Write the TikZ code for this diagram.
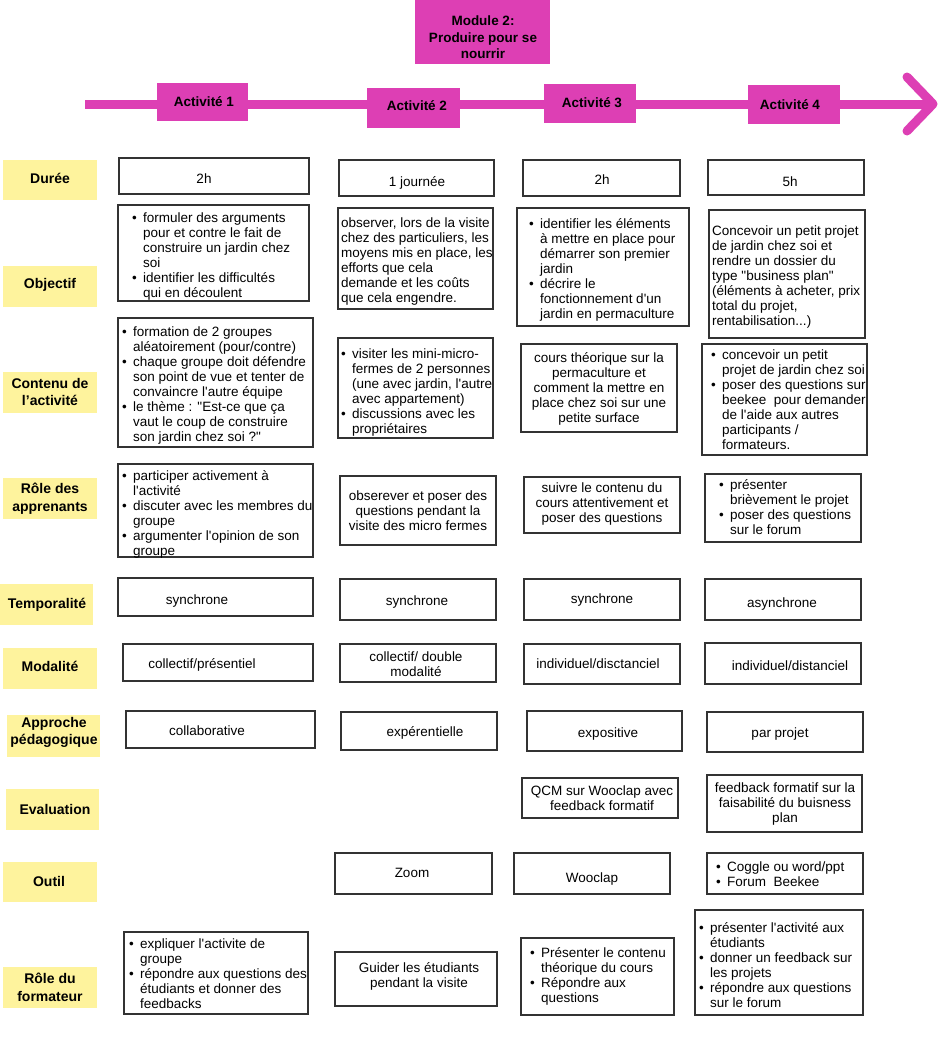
\documentclass[tikz,border=0pt]{standalone}
\usepackage{fontspec}
\setmainfont{Liberation Sans}
\newfontfamily\bodyfont{Liberation Sans}[Ligatures=TeXOff]
\usetikzlibrary{fit}
\definecolor{mag}{RGB}{221,63,180}
\definecolor{labc}{RGB}{254,243,157}
\newlength{\bw}\setlength{\bw}{11pt}
\newcommand{\bul}{\makebox[\bw][l]{\textbullet}}
\newcommand{\ind}{\hspace*{\bw}}
\newcommand{\cellbox}[5]{\node[cell, fit={(#2,#3)(#4,#5)}] (#1) {};}
\begin{document}
\begin{tikzpicture}[x=1pt,y=-1pt,
  cell/.style={draw=black!80, line width=1.1pt, fill=white, inner sep=0pt},
  lab/.style={fill=labc, inner sep=0pt},
  labtxt/.style={inner sep=0pt, font=\fontsize{14}{17.5}\selectfont\bfseries, align=center, anchor=north, execute at begin node=\strut},
  actbox/.style={fill=mag, inner sep=0pt},
  acttxt/.style={inner sep=0pt, font=\fontsize{13.5}{16.5}\selectfont\bfseries, align=center, anchor=north, execute at begin node=\strut},
  txt/.style={inner sep=0pt, font=\bodyfont\fontsize{13.5}{15}\selectfont, align=left, anchor=north west, execute at begin node=\strut},
  ctxt/.style={inner sep=0pt, font=\bodyfont\fontsize{13.5}{15}\selectfont, align=center, anchor=north, execute at begin node=\strut},
  arrowline/.style={draw=mag, line width=9pt}
]
\fill[white] (0,0) rectangle (941,1041);
\useasboundingbox (0,0) rectangle (941,1041);

% timeline arrow
\coordinate (aL) at (85,104);
\coordinate (aR) at (930,104);
\coordinate (hT) at (907,77);
\coordinate (hM) at (933,104);
\coordinate (hB) at (907,131);
\draw[arrowline] (aL) -- (aR);
\draw[arrowline, line cap=round, line join=round] (hT) -- (hM) -- (hB);

% module
\node[actbox, fit={(415,0)(550,64)}] (mod) {};
\node[acttxt] (modt) at (483,16) {Module 2:\\Produire pour se\\nourrir};

% activities
\node[actbox, fit={(157,83)(248,121)}] (A1) {};
\node[acttxt] (A1t) at (204,95) {Activité 1};
\node[actbox, fit={(367,88)(460,128)}] (A2) {};
\node[acttxt] (A2t) at (417,99) {Activité 2};
\node[actbox, fit={(544,84)(636,123)}] (A3) {};
\node[acttxt] (A3t) at (592,96) {Activité 3};
\node[actbox, fit={(748,85)(840,124)}] (A4) {};
\node[acttxt] (A4t) at (790,98) {Activité 4};

% row labels
\node[lab, fit={(3,160)(97,200)}] (L1) {};
\node[labtxt] (L1t) at (50,171) {Durée};
\node[lab, fit={(3,266)(97,307)}] (L2) {};
\node[labtxt] (L2t) at (50,276) {Objectif};
\node[lab, fit={(3,372)(97,413)}] (L3) {};
\node[labtxt] (L3t) at (50,378) {Contenu de\\l’activité};
\node[lab, fit={(3,478)(97,519)}] (L4) {};
\node[labtxt] (L4t) at (50,483) {Rôle des\\apprenants};
\node[lab, fit={(0,584)(93,625)}] (L5) {};
\node[labtxt] (L5t) at (47,596) {Temporalité};
\node[lab, fit={(3,648)(97,689)}] (L6) {};
\node[labtxt] (L6t) at (50,659) {Modalité};
\node[lab, fit={(7,715)(100,757)}] (L7) {};
\node[labtxt] (L7t) at (54,717) {Approche\\pédagogique};
\node[lab, fit={(6,789)(99,830)}] (L8) {};
\node[labtxt] (L8t) at (55,802) {Evaluation};
\node[lab, fit={(3,862)(97,902)}] (L9) {};
\node[labtxt] (L9t) at (49,874) {Outil};
\node[lab, fit={(3,967)(97,1008)}] (L10) {};
\node[labtxt] (L10t) at (50,973) {Rôle du\\formateur};

% Durée
\cellbox{d1}{119}{158}{309}{194}
\node[ctxt] (d1t) at (204,173) {2h};
\cellbox{d2}{339}{160}{494}{196}
\node[ctxt] (d2t) at (417,176) {1 journée};
\cellbox{d3}{523}{160}{680}{196}
\node[ctxt] (d3t) at (602,174) {2h};
\cellbox{d4}{708}{160}{864}{195}
\node[ctxt] (d4t) at (790,176) {5h};

% Objectif
\cellbox{o1}{118}{205}{309}{301}
\node[txt] (o1t) at (132,213) {\bul formuler des arguments\\\ind pour et contre le fait de\\\ind construire un jardin chez\\\ind soi\\\bul identifier les difficultés\\\ind qui en découlent};
\cellbox{o2}{338}{208}{493}{309}
\node[txt] (o2t) at (341,218) {observer, lors de la visite\\chez des particuliers, les\\moyens mis en place, les\\efforts que cela\\demande et les coûts\\que cela engendre.};
\cellbox{o3}{517}{208}{689}{326}
\node[txt] (o3t) at (529,218) {\bul identifier les éléments\\\ind à mettre en place pour\\\ind démarrer son premier\\\ind jardin\\\bul décrire le\\\ind fonctionnement d'un\\\ind jardin en permaculture};
\cellbox{o4}{709}{210}{865}{338}
\node[txt] (o4t) at (712,226) {Concevoir un petit projet\\de jardin chez soi et\\rendre un dossier du\\type "business plan"\\(éléments à acheter, prix\\total du projet,\\rentabilisation...)};

% Contenu
\cellbox{c1}{118}{318}{313}{447}
\node[txt] (c1t) at (122,327) {\bul formation de 2 groupes\\\ind aléatoirement (pour/contre)\\\bul chaque groupe doit défendre\\\ind son point de vue et tenter de\\\ind convaincre l'autre équipe\\\bul le thème : "Est-ce que ça\\\ind vaut le coup de construire\\\ind son jardin chez soi ?"};
\cellbox{c2}{338}{338}{493}{438}
\node[txt] (c2t) at (341,349) {\bul visiter les mini-micro-\\\ind fermes de 2 personnes\\\ind (une avec jardin, l'autre\\\ind avec appartement)\\\bul discussions avec les\\\ind propriétaires};
\cellbox{c3}{521}{344}{677}{432}
\node[ctxt] (c3t) at (599,352) {cours théorique sur la\\permaculture et\\comment la mettre en\\place chez soi sur une\\petite surface};
\cellbox{c4}{702}{344}{867}{455}
\node[txt] (c4t) at (711,350) {\bul concevoir un petit\\\ind projet de jardin chez soi\\\bul poser des questions sur\\\ind beekee\ \ pour demander\\\ind de l'aide aux autres\\\ind participants /\\\ind formateurs.};

% Rôle des apprenants
\cellbox{r1}{118}{464}{313}{557}
\node[txt] (r1t) at (122,470) {\bul participer activement à\\\ind l'activité\\\bul discuter avec les membres du\\\ind groupe\\\bul argumenter l'opinion de son\\\ind groupe};
\cellbox{r2}{340}{476}{496}{545}
\node[ctxt] (r2t) at (418,491) {obserever et poser des\\questions pendant la\\visite des micro fermes};
\cellbox{r3}{524}{477}{680}{533}
\node[ctxt] (r3t) at (602,483) {suivre le contenu du\\cours attentivement et\\poser des questions};
\cellbox{r4}{705}{474}{861}{542}
\node[txt] (r4t) at (719,479) {\bul présenter\\\ind brièvement le projet\\\bul poser des questions\\\ind sur le forum};

% Temporalité
\cellbox{t1}{118}{578}{313}{616}
\node[ctxt] (t1t) at (197,594) {synchrone};
\cellbox{t2}{340}{579}{496}{620}
\node[ctxt] (t2t) at (417,595) {synchrone};
\cellbox{t3}{524}{579}{680}{620}
\node[ctxt] (t3t) at (602,593) {synchrone};
\cellbox{t4}{705}{579}{861}{620}
\node[ctxt] (t4t) at (782,597) {asynchrone};

% Modalité
\cellbox{m1}{123}{644}{313}{681}
\node[ctxt] (m1t) at (202,658) {collectif/présentiel};
\cellbox{m2}{340}{644}{496}{682}
\node[ctxt] (m2t) at (416,652) {collectif/ double\\modalité};
\cellbox{m3}{524}{644}{680}{684}
\node[ctxt] (m3t) at (598,658) {individuel/disctanciel};
\cellbox{m4}{705}{643}{861}{684}
\node[ctxt] (m4t) at (790,660) {individuel/distanciel};

% Approche
\cellbox{p1}{126}{711}{315}{748}
\node[ctxt] (p1t) at (207,725) {collaborative};
\cellbox{p2}{341}{712}{497}{750}
\node[ctxt] (p2t) at (425,726) {expérentielle};
\cellbox{p3}{527}{711}{682}{751}
\node[ctxt] (p3t) at (608,727) {expositive};
\cellbox{p4}{707}{712}{863}{752}
\node[ctxt] (p4t) at (780,727) {par projet};

% Evaluation
\cellbox{e3}{522}{778}{678}{818}
\node[ctxt] (e3t) at (602,786) {QCM sur Wooclap avec\\feedback formatif};
\cellbox{e4}{707}{775}{862}{832}
\node[ctxt] (e4t) at (785,783) {feedback formatif sur la\\faisabilité du buisness\\plan};

% Outil
\cellbox{u2}{335}{853}{492}{894}
\node[ctxt] (u2t) at (412,867) {Zoom};
\cellbox{u3}{514}{853}{670}{894}
\node[ctxt] (u3t) at (592,872) {Wooclap};
\cellbox{u4}{707}{853}{863}{894}
\node[txt] (u4t) at (716,862) {\bul Coggle ou word/ppt\\\bul Forum\ \ Beekee};

% Rôle du formateur
\cellbox{f1}{124}{932}{308}{1014}
\node[txt] (f1t) at (129,939) {\bul expliquer l'activite de\\\ind groupe\\\bul répondre aux questions des\\\ind étudiants et donner des\\\ind feedbacks};
\cellbox{f2}{335}{952}{497}{1006}
\node[ctxt] (f2t) at (419,962) {Guider les étudiants\\pendant la visite};
\cellbox{f3}{521}{938}{674}{1015}
\node[txt] (f3t) at (530,947) {\bul Présenter le contenu\\\ind théorique du cours\\\bul Répondre aux\\\ind questions};
\cellbox{f4}{695}{910}{863}{1015}
\node[txt] (f4t) at (699,922) {\bul présenter l'activité aux\\\ind étudiants\\\bul donner un feedback sur\\\ind les projets\\\bul répondre aux questions\\\ind sur le forum};
\end{tikzpicture}
\end{document}
